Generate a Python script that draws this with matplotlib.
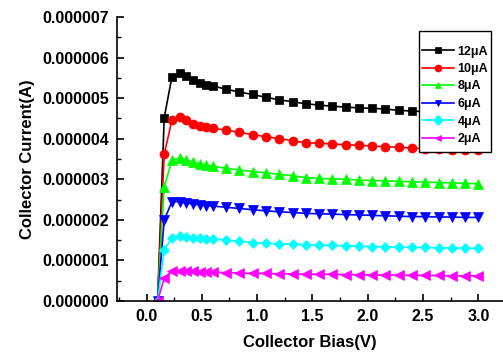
import numpy as np
import matplotlib
matplotlib.use("Agg")
import matplotlib.pyplot as plt
from matplotlib.patches import Rectangle
from matplotlib.ticker import MultipleLocator, FormatStrFormatter

# collector bias (V)
bias = [0.10, 0.16, 0.23, 0.30, 0.36, 0.42, 0.48, 0.54, 0.60,
        0.72, 0.84, 0.96, 1.08, 1.20, 1.32, 1.44, 1.56, 1.68, 1.80,
        1.92, 2.04, 2.16, 2.28, 2.40, 2.52, 2.64, 2.76, 2.88, 3.00]

# collector current in uA, one list per base current
i12 = [0.00, 4.52, 5.53, 5.61, 5.54, 5.44, 5.38, 5.33, 5.30,
       5.22, 5.15, 5.09, 5.02, 4.96, 4.91, 4.86, 4.83, 4.80, 4.78,
       4.76, 4.75, 4.73, 4.70, 4.68, 4.67, 4.66, 4.65, 4.64, 4.63]
i10 = [0.00, 3.62, 4.46, 4.53, 4.46, 4.36, 4.31, 4.28, 4.26,
       4.21, 4.16, 4.10, 4.05, 4.00, 3.95, 3.90, 3.89, 3.87, 3.85,
       3.84, 3.82, 3.80, 3.79, 3.77, 3.75, 3.74, 3.73, 3.72, 3.72]
i8 = [0.00, 2.82, 3.47, 3.52, 3.47, 3.42, 3.38, 3.35, 3.32,
      3.27, 3.23, 3.19, 3.16, 3.12, 3.09, 3.04, 3.02, 3.01, 3.00,
      2.98, 2.97, 2.96, 2.95, 2.94, 2.93, 2.92, 2.91, 2.90, 2.89]
i6 = [0.00, 2.00, 2.45, 2.45, 2.42, 2.39, 2.37, 2.35, 2.34,
      2.31, 2.28, 2.25, 2.22, 2.20, 2.18, 2.16, 2.15, 2.14, 2.13,
      2.12, 2.11, 2.10, 2.09, 2.08, 2.08, 2.07, 2.07, 2.06, 2.06]
i4 = [0.00, 1.26, 1.56, 1.60, 1.58, 1.56, 1.55, 1.54, 1.53,
      1.50, 1.47, 1.44, 1.42, 1.41, 1.40, 1.39, 1.38, 1.37, 1.36,
      1.35, 1.34, 1.34, 1.33, 1.32, 1.32, 1.31, 1.31, 1.30, 1.30]
i2 = [0.00, 0.56, 0.73, 0.75, 0.74, 0.73, 0.72, 0.72, 0.71,
      0.70, 0.69, 0.68, 0.68, 0.67, 0.67, 0.66, 0.66, 0.66, 0.65,
      0.65, 0.64, 0.64, 0.64, 0.63, 0.63, 0.63, 0.62, 0.62, 0.62]

labels = ["12\u03bcA", "10\u03bcA", "8\u03bcA", "6\u03bcA", "4\u03bcA", "2\u03bcA"]
curves = [i12, i10, i8, i6, i4, i2]

colors = ["#000000", "#ff0000", "#00ff00", "#0000ff", "#00ffff", "#ff00ff"]
markers = ["s", "o", "^", "v", "D", "<"]
msizes = [6, 6.5, 7, 7, 5, 7]

plt.rcParams["font.family"] = ["Liberation Sans", "DejaVu Sans"]
plt.rcParams["font.weight"] = "bold"

fig = plt.figure(figsize=(5.03, 3.58), dpi=100)
ax = fig.add_axes([117 / 503, 1 - 301 / 358, 1 - 117 / 503, (301 - 17) / 358])

x = np.array(bias)
for y, lab, c, m, ms in zip(curves, labels, colors, markers, msizes):
    ax.plot(x, np.array(y) * 1e-6, color=c, marker=m, markersize=ms,
            markeredgewidth=0.5, markeredgecolor=c, linewidth=1.2, label=lab)

ax.set_xlim(-0.267, 3.223)
ax.set_ylim(0, 7e-6)

ax.xaxis.set_major_locator(MultipleLocator(0.5))
ax.xaxis.set_minor_locator(MultipleLocator(0.25))
ax.yaxis.set_major_locator(MultipleLocator(1e-6))
ax.yaxis.set_minor_locator(MultipleLocator(0.5e-6))
ax.xaxis.set_major_formatter(FormatStrFormatter("%.1f"))
ax.yaxis.set_major_formatter(FormatStrFormatter("%.6f"))

ax.spines["top"].set_visible(False)
ax.spines["right"].set_visible(False)
ax.spines["left"].set_linewidth(1.2)
ax.spines["bottom"].set_linewidth(1.2)

ax.tick_params(which="major", direction="in", length=5, width=1.2, labelsize=11.5, pad=6)
ax.tick_params(which="minor", direction="in", length=3, width=1.0)
for t in ax.get_xticklabels() + ax.get_yticklabels():
    t.set_fontweight("bold")

ax.set_xlabel("Collector Bias(V)", fontsize=12, fontweight="bold", labelpad=8)
ax.set_ylabel("Collector Current(A)", fontsize=12, fontweight="bold", labelpad=5)

# legend box drawn separately so the padding matches the original
box = Rectangle((419 / 503, 1 - 152 / 358), 72 / 503, 121 / 358,
                transform=fig.transFigure, facecolor="white", edgecolor="black",
                linewidth=1.0, zorder=4, clip_on=False)
ax.add_patch(box)

leg = ax.legend(loc="upper left", bbox_to_anchor=(421.5 / 503, 1 - 45.5 / 358),
                bbox_transform=fig.transFigure, borderaxespad=0, borderpad=0,
                frameon=False, prop={"size": 9, "weight": "bold"},
                handlelength=2.56, handletextpad=0.34, labelspacing=0.44)
leg.set_zorder(5)
for h in leg.legend_handles:
    h.set_markersize(5)

fig.savefig("out.png", dpi=100)
